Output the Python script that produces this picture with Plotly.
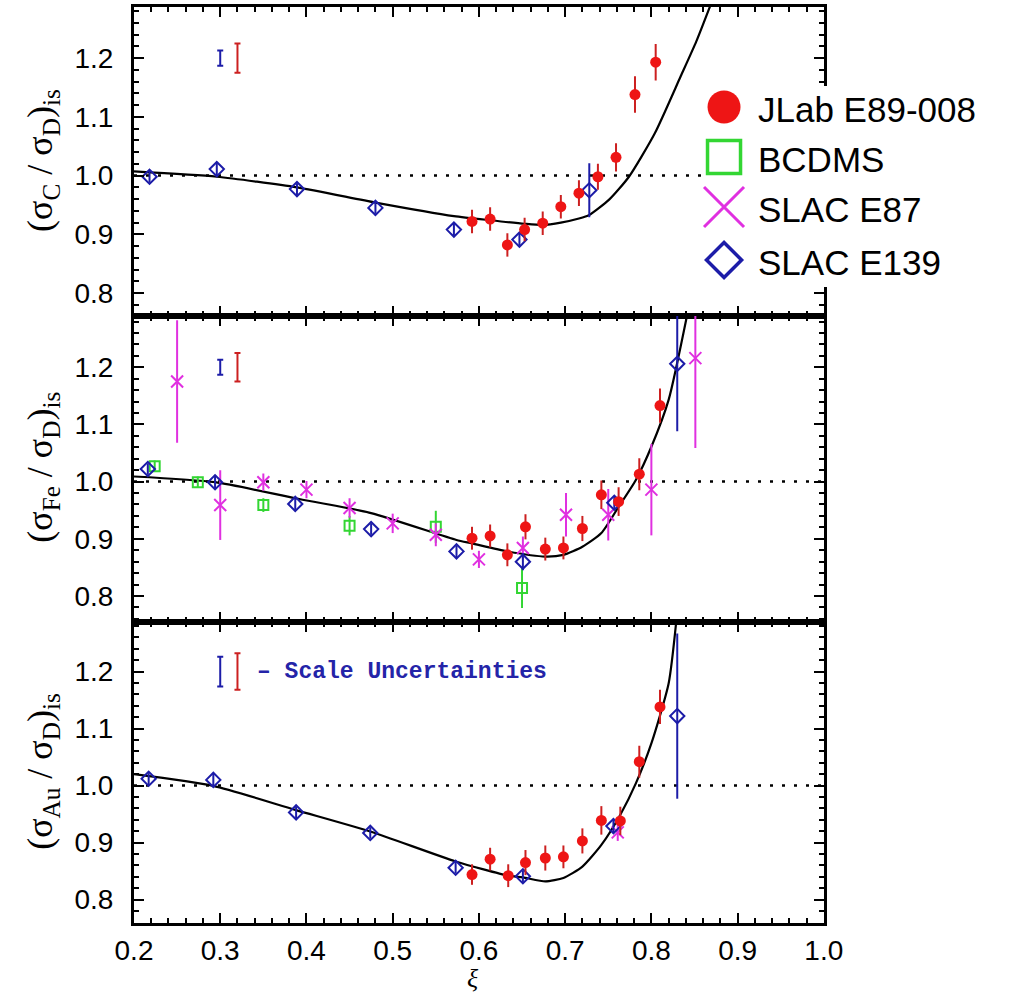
import plotly.graph_objects as go

# ---------------- data ----------------
# Carbon (top panel)
jlab_c_x = [0.592, 0.613, 0.633, 0.653, 0.674, 0.695, 0.716, 0.738, 0.759, 0.781, 0.805]
jlab_c_y = [0.922, 0.926, 0.882, 0.908, 0.919, 0.947, 0.970, 0.998, 1.031, 1.138, 1.193]
jlab_c_e = [0.020, 0.020, 0.020, 0.020, 0.020, 0.020, 0.022, 0.022, 0.024, 0.031, 0.031]
e139_c_x = [0.218, 0.296, 0.389, 0.480, 0.571, 0.647, 0.728]
e139_c_y = [0.998, 1.011, 0.977, 0.945, 0.908, 0.891, 0.975]
e139_c_e = [0.010, 0.012, 0.010, 0.010, 0.010, 0.010, 0.046]
fit_c_x = [0.2, 0.296, 0.389, 0.48, 0.571, 0.613, 0.653, 0.674, 0.695, 0.716, 0.728, 0.751, 0.774, 0.804, 0.834, 0.852, 0.868]
fit_c_y = [1.007, 0.998, 0.980, 0.954, 0.931, 0.924, 0.918, 0.916, 0.920, 0.927, 0.933, 0.959, 0.998, 1.072, 1.169, 1.228, 1.288]

# Iron (middle panel)
jlab_fe_x = [0.592, 0.613, 0.633, 0.654, 0.677, 0.698, 0.720, 0.742, 0.762, 0.786, 0.810]
jlab_fe_y = [0.901, 0.905, 0.872, 0.921, 0.882, 0.884, 0.918, 0.977, 0.965, 1.013, 1.133]
jlab_fe_e = [0.020, 0.020, 0.020, 0.022, 0.020, 0.020, 0.022, 0.025, 0.025, 0.028, 0.030]
e139_fe_x = [0.216, 0.294, 0.387, 0.475, 0.574, 0.651, 0.757, 0.830]
e139_fe_y = [1.022, 0.999, 0.961, 0.917, 0.878, 0.860, 0.963, 1.206]
e139_fe_e = [0.010, 0.012, 0.010, 0.010, 0.010, 0.015, 0.012, 0.118]
bcdms_fe_x = [0.224, 0.274, 0.350, 0.450, 0.550, 0.650]
bcdms_fe_y = [1.027, 0.999, 0.959, 0.923, 0.921, 0.814]
bcdms_fe_e = [0.010, 0.010, 0.012, 0.017, 0.028, 0.035]
e87_fe_x = [0.250, 0.300, 0.350, 0.400, 0.450, 0.500, 0.550, 0.600, 0.651, 0.701, 0.750, 0.800, 0.851]
e87_fe_y = [1.175, 0.959, 0.999, 0.986, 0.954, 0.927, 0.907, 0.864, 0.884, 0.942, 0.942, 0.986, 1.216]
e87_fe_e = [0.107, 0.061, 0.015, 0.015, 0.017, 0.017, 0.020, 0.015, 0.020, 0.038, 0.045, 0.080, 0.157]
fit_fe_x = [0.2, 0.294, 0.387, 0.475, 0.574, 0.592, 0.633, 0.677, 0.698, 0.720, 0.742, 0.762, 0.782, 0.800, 0.820, 0.841]
fit_fe_y = [1.009, 0.999, 0.971, 0.945, 0.898, 0.892, 0.878, 0.869, 0.872, 0.886, 0.910, 0.956, 1.003, 1.061, 1.143, 1.288]

# Gold (bottom panel)
jlab_au_x = [0.592, 0.613, 0.634, 0.654, 0.677, 0.698, 0.720, 0.742, 0.764, 0.786, 0.810]
jlab_au_y = [0.844, 0.871, 0.842, 0.865, 0.873, 0.875, 0.903, 0.939, 0.938, 1.042, 1.138]
jlab_au_e = [0.018, 0.020, 0.020, 0.022, 0.022, 0.020, 0.022, 0.025, 0.025, 0.028, 0.030]
e139_au_x = [0.217, 0.292, 0.388, 0.474, 0.573, 0.651, 0.756, 0.830]
e139_au_y = [1.012, 1.010, 0.953, 0.917, 0.856, 0.841, 0.929, 1.122]
e139_au_e = [0.010, 0.012, 0.010, 0.010, 0.010, 0.010, 0.012, 0.145]
e87_au_x = [0.761]
e87_au_y = [0.918]
e87_au_e = [0.015]
fit_au_x = [0.2, 0.292, 0.388, 0.474, 0.573, 0.634, 0.651, 0.677, 0.698, 0.720, 0.742, 0.764, 0.782, 0.800, 0.820, 0.829]
fit_au_y = [1.020, 0.9995, 0.957, 0.9195, 0.867, 0.842, 0.839, 0.832, 0.838, 0.858, 0.896, 0.949, 1.004, 1.074, 1.179, 1.29]

# Scale uncertainties (per panel: C, Fe, Au)
scale_blue_x = 0.300
scale_red_x = 0.320
scale_y = 1.2
scale_blue_e = [0.013, 0.013, 0.026]
scale_red_e = [0.025, 0.025, 0.032]

ref_x = [0.2, 1.0]
ref_y = [1.0, 1.0]

x_ticks = [0.2, 0.3, 0.4, 0.5, 0.6, 0.7, 0.8, 0.9, 1.0]
y_ticks = [0.8, 0.9, 1.0, 1.1, 1.2]

legend_names = ["JLab E89-008", "BCDMS", "SLAC E87", "SLAC E139"]

# ---------------- styles ----------------
RED = "#ee1515"
RED_E = "#cc2020"
GREEN = "#33d633"
MAG = "#e030e0"
BLUE = "#1c1ca8"

fig = go.Figure()

def add_panel(i, fit_x, fit_y, sets):
    xa = "x" if i == 1 else f"x{i}"
    ya = "y" if i == 1 else f"y{i}"
    fig.add_trace(go.Scatter(x=ref_x, y=ref_y, mode="lines", xaxis=xa, yaxis=ya,
                             line=dict(color="black", width=2.5, dash="3px,9px"),
                             showlegend=False, hoverinfo="skip"))
    fig.add_trace(go.Scatter(x=fit_x, y=fit_y, mode="lines", xaxis=xa, yaxis=ya,
                             line=dict(color="black", width=2.2, shape="spline", smoothing=0.6),
                             showlegend=False, hoverinfo="skip"))
    for kind, xs, ys, es in sets:
        if kind == "bcdms":
            mk = dict(symbol="square-open", size=10, color=GREEN, line=dict(width=2, color=GREEN))
            ec = GREEN
        elif kind == "e87":
            mk = dict(symbol="x-thin", size=12, color=MAG, line=dict(width=2, color=MAG))
            ec = MAG
        elif kind == "e139":
            mk = dict(symbol="diamond-open", size=11, color=BLUE, line=dict(width=2, color=BLUE))
            ec = BLUE
        else:
            mk = dict(symbol="circle", size=11, color=RED, line=dict(width=0))
            ec = RED_E
        fig.add_trace(go.Scatter(x=xs, y=ys, mode="markers", xaxis=xa, yaxis=ya,
                                 marker=mk,
                                 error_y=dict(type="data", array=es, color=ec, thickness=2, width=0),
                                 showlegend=False))
    # scale uncertainty bars
    fig.add_trace(go.Scatter(x=[scale_blue_x], y=[scale_y], mode="markers", xaxis=xa, yaxis=ya,
                             marker=dict(size=1, color=BLUE, opacity=0),
                             error_y=dict(type="data", array=[scale_blue_e[i - 1]], color=BLUE,
                                          thickness=2, width=3),
                             showlegend=False, hoverinfo="skip"))
    fig.add_trace(go.Scatter(x=[scale_red_x], y=[scale_y], mode="markers", xaxis=xa, yaxis=ya,
                             marker=dict(size=1, color=RED_E, opacity=0),
                             error_y=dict(type="data", array=[scale_red_e[i - 1]], color=RED_E,
                                          thickness=2, width=3),
                             showlegend=False, hoverinfo="skip"))

add_panel(1, fit_c_x, fit_c_y, [
    ("e139", e139_c_x, e139_c_y, e139_c_e),
    ("jlab", jlab_c_x, jlab_c_y, jlab_c_e),
])
add_panel(2, fit_fe_x, fit_fe_y, [
    ("bcdms", bcdms_fe_x, bcdms_fe_y, bcdms_fe_e),
    ("e87", e87_fe_x, e87_fe_y, e87_fe_e),
    ("e139", e139_fe_x, e139_fe_y, e139_fe_e),
    ("jlab", jlab_fe_x, jlab_fe_y, jlab_fe_e),
])
add_panel(3, fit_au_x, fit_au_y, [
    ("e87", e87_au_x, e87_au_y, e87_au_e),
    ("e139", e139_au_x, e139_au_y, e139_au_e),
    ("jlab", jlab_au_x, jlab_au_y, jlab_au_e),
])

# ---------------- legend (own overlay subplot, drawn on top) ----------------
LBOX_X = [715, 965]
LBOX_Y = [287, 86]
fig.add_trace(go.Scatter(x=[715, 965, 965, 715, 715], y=[86, 86, 287, 287, 86],
                         mode="lines", fill="toself", fillcolor="white",
                         line=dict(width=0, color="white"), xaxis="x4", yaxis="y4",
                         showlegend=False, hoverinfo="skip"))
leg_y = [107, 157, 207, 260]
leg_x = 737
leg_markers = [
    dict(symbol="circle", size=33, color=RED, line=dict(width=0)),
    dict(symbol="square-open", size=33, color=GREEN, line=dict(width=3.5, color=GREEN)),
    dict(symbol="x-thin", size=40, color=MAG, line=dict(width=3, color=MAG)),
    dict(symbol="diamond-open", size=27, color=BLUE, line=dict(width=3.5, color=BLUE)),
]
for yy, mk in zip(leg_y, leg_markers):
    fig.add_trace(go.Scatter(x=[leg_x], y=[yy], mode="markers", marker=mk,
                             xaxis="x4", yaxis="y4", showlegend=False, hoverinfo="skip"))

annotations = []
for yy, name in zip(leg_y, legend_names):
    annotations.append(dict(x=770, y=yy + 2, xref="x4", yref="y4", text=name, showarrow=False,
                            xanchor="left", yanchor="middle",
                            font=dict(family="Liberation Sans", size=35, color="black")))

# y-axis titles
ytitles = [("C", 0.832), ("Fe", 0.497), ("Au", 0.165)]
PW = 883.0
for sub, yc in ytitles:
    annotations.append(dict(
        x=(41 - 134) / PW, y=yc, xref="paper", yref="paper", showarrow=False,
        textangle=-90, xanchor="center", yanchor="middle",
        text=f"(σ<sub>{sub}</sub> / σ<sub>D</sub>)<sub>is</sub>",
        font=dict(family="Liberation Serif", size=36, color="black")))

# x-axis title
annotations.append(dict(x=(480 - 134) / PW, y=(923 - 978) / 916.0, xref="paper", yref="paper",
                        showarrow=False, text="<i>ξ</i>", xanchor="center", yanchor="middle",
                        font=dict(family="Liberation Serif", size=26, color="black")))

# scale uncertainty label
annotations.append(dict(x=0.3403, y=1.2, xref="x3", yref="y3", showarrow=False,
                        text="<b>– Scale Uncertainties</b>", xanchor="left", yanchor="middle",
                        font=dict(family="Liberation Mono", size=23, color="#2424a8")))

XD = [0, 705 / PW]
common_x = dict(range=[0.2, 1.0], domain=XD, showgrid=False, zeroline=False,
                showline=True, linewidth=3, linecolor="black", mirror="ticks",
                ticks="inside", ticklen=10, tickwidth=2, tickcolor="black",
                tickvals=x_ticks, tickformat=".1f",
                minor=dict(ticks="inside", dtick=0.02, ticklen=5, tickwidth=1.5, tickcolor="black"),
                tickfont=dict(family="Liberation Sans", size=28, color="black"))
common_y = dict(showgrid=False, zeroline=False,
                showline=True, linewidth=3, linecolor="black", mirror="ticks",
                ticks="inside", ticklen=10, tickwidth=2, tickcolor="black",
                tickvals=y_ticks, tickformat=".1f", ticklabelstandoff=12,
                minor=dict(ticks="inside", dtick=0.02, ticklen=5, tickwidth=1.5, tickcolor="black"),
                tickfont=dict(family="Liberation Sans", size=28, color="black"))

fig.update_layout(
    width=1017, height=998,
    margin=dict(l=134, r=0, t=7, b=75),
    paper_bgcolor="white", plot_bgcolor="white",
    showlegend=False,
    xaxis=dict(common_x, anchor="y", showticklabels=False),
    xaxis2=dict(common_x, anchor="y2", showticklabels=False),
    xaxis3=dict(common_x, anchor="y3", showticklabels=True, ticklabelstandoff=0),
    yaxis=dict(common_y, anchor="x", domain=[0.6627, 1.0], range=[0.761, 1.287]),
    yaxis2=dict(common_y, anchor="x2", domain=[0.3286, 0.6627], range=[0.7545, 1.2897]),
    yaxis3=dict(common_y, anchor="x3", domain=[0.0, 0.3286], range=[0.759, 1.287]),
    xaxis4=dict(domain=[(715 - 134) / PW, (965 - 134) / PW], range=LBOX_X, visible=False,
                anchor="y4", fixedrange=True),
    yaxis4=dict(domain=[(923 - 287) / 916.0, (923 - 86) / 916.0], range=LBOX_Y, visible=False,
                anchor="x4", fixedrange=True),
    annotations=annotations,
)

fig.write_html("out.html")
